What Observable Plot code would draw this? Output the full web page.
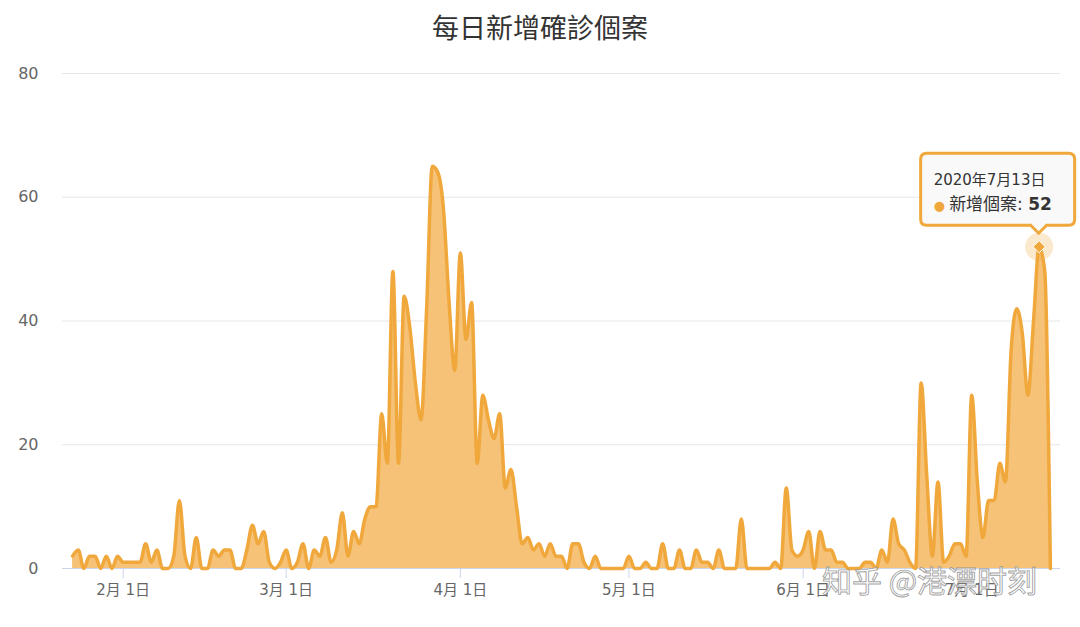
<!DOCTYPE html>
<html>
<head>
<meta charset="utf-8">
<script src="https://cdn.jsdelivr.net/npm/d3@7"></script>
<script src="https://cdn.jsdelivr.net/npm/@observablehq/plot@0.6"></script>
<style>
  body { margin: 0; background: #fff; }
  #wrap { position: relative; width: 1080px; height: 627px; overflow: hidden; }
  #title { height: 60px; line-height: 54px; text-align: center; font-size: 27px; color: #333;
           font-family: "Noto Sans CJK TC", "Noto Sans", sans-serif; }
</style>
</head>
<body>
<div id="wrap">
  <div id="title">每日新增確診個案</div>
  <div id="chart"></div>
</div>
<script>
// ---- data: daily new confirmed cases, starting 2020-01-23 ----
const startDay = "2020-01-23";
const janValues = [2, 3, 0, 2, 2, 0, 2, 0, 2];                       // Jan 23–31
const febValues = [1, 1, 1, 1, 4, 1, 3, 0, 0, 2, 11, 2, 0, 5, 0, 0, 3, 2, 3, 3,
                   0, 0, 3, 7, 4, 6, 1, 0, 1];                        // Feb 1–29
const marValues = [3, 0, 1, 4, 0, 3, 2, 5, 1, 3, 9, 2, 6, 4, 8, 10, 10, 25, 17, 48,
                   17, 44, 39, 30, 24, 42, 65, 64, 58, 43, 32];       // Mar 1–31
const aprValues = [51, 37, 43, 17, 28, 24, 21, 25, 13, 16, 10, 4, 5, 3, 4, 2, 4, 2, 2, 0,
                   4, 4, 1, 0, 2, 0, 0, 0, 0, 0];                     // Apr 1–30
const mayValues = [2, 0, 0, 1, 0, 0, 4, 0, 0, 3, 0, 0, 3, 1, 1, 0, 3, 0, 0, 0,
                   8, 0, 0, 0, 0, 0, 1, 0, 13, 3, 2];                 // May 1–31
const junValues = [3, 6, 0, 6, 3, 3, 1, 1, 0, 0, 0, 1, 1, 0, 3, 1, 8, 4, 3, 1,
                   0, 30, 15, 2, 14, 1, 2, 4, 4, 2];                  // Jun 1–30
const julValues = [28, 14, 5, 11, 11, 17, 14, 35, 42, 38, 28, 40, 52, 48, 0]; // Jul 1–15

const xTickDays   = ["2020-02-01", "2020-03-01", "2020-04-01", "2020-05-01", "2020-06-01", "2020-07-01"];
const xTickLabels = ["2月 1日", "3月 1日", "4月 1日", "5月 1日", "6月 1日", "7月 1日"];
const yTicks = [0, 20, 40, 60, 80];
const xDomainDays = ["2020-01-21T04:48Z", "2020-07-16T19:12Z"];

const tipDay = "2020-07-13";
const tipHeader = "2020年7月13日";
const tipSeriesName = "新增個案";
const watermarkText = "知乎 @港漂时刻";

// ---- build table ----
const DAY = 24 * 3600 * 1000;
const values = [janValues, febValues, marValues, aprValues, mayValues, junValues, julValues].flat();
const t0 = new Date(startDay + "T00:00Z").getTime();
const data = values.map((v, i) => ({ date: new Date(t0 + i * DAY), value: v }));
const tipDate = new Date(tipDay + "T00:00Z");
const tipPoint = data.find(d => +d.date === +tipDate);
const xTicks = xTickDays.map(s => new Date(s + "T00:00Z"));

const LINE = "#f0a83c", FILL = "#f5c278";
const FONT = '"DejaVu Sans", "Noto Sans CJK TC", sans-serif';

const chart = Plot.plot({
  width: 1080,
  height: 567,
  marginTop: 13,
  marginBottom: 59,
  marginLeft: 62,
  marginRight: 20,
  style: { fontFamily: FONT, fontSize: "15px", color: "#666", background: "transparent", overflow: "visible" },
  x: { type: "utc", domain: xDomainDays.map(s => new Date(s)) },
  y: { domain: [0, 80] },
  marks: [
    Plot.gridY(yTicks, { stroke: "#e6e6e6", strokeOpacity: 1 }),
    Plot.ruleY([0], { stroke: "#ccd6eb" }),
    Plot.areaY(data, { x: "date", y: "value", curve: "monotone-x", fill: FILL, fillOpacity: 1 }),
    Plot.lineY(data, { x: "date", y: "value", curve: "monotone-x", stroke: LINE, strokeWidth: 3.5 }),
    Plot.axisY({ ticks: yTicks, tickSize: 0, tickPadding: 24, fontSize: 16, fill: "#666", label: null }),
    Plot.axisX({ ticks: xTicks, tickSize: 10, tickPadding: 6, stroke: "#ccd6eb", fill: "#666", fontSize: 15,
                 label: null, tickFormat: d => xTickLabels[xTicks.findIndex(t => +t === +d)] }),
    Plot.dot([tipPoint], { x: "date", y: "value", r: 14, fill: LINE, fillOpacity: 0.25, stroke: null }),
    Plot.dot([tipPoint], { x: "date", y: "value", r: 5.5, symbol: "diamond2", fill: LINE, stroke: "#fff", strokeWidth: 1 })
  ]
});

document.getElementById("chart").appendChild(chart);

// ---- tooltip, positioned from the plot's scales ----
const px = chart.scale("x").apply(tipPoint.date);
const py = chart.scale("y").apply(tipPoint.value);
const svg = d3.select(chart);
const g = svg.append("g").attr("text-anchor", "start");
const L = px - 118, R = px + 36, T = py - 93, B = py - 21, r = 6;
const path = `M${L + r},${T} H${R - r} Q${R},${T} ${R},${T + r} V${B - r} Q${R},${B} ${R - r},${B}
  H${px + 8} L${px},${py - 13} L${px - 8},${B} H${L + r} Q${L},${B} ${L},${B - r} V${T + r} Q${L},${T} ${L + r},${T} Z`;
g.append("path").attr("d", path).attr("fill", "rgba(248,248,248,0.92)").attr("stroke", LINE).attr("stroke-width", 3);
g.append("text").attr("x", L + 13).attr("y", T + 32).attr("font-size", 15).attr("fill", "#333")
  .style("font-family", FONT).text(tipHeader);
const t2 = g.append("text").attr("x", L + 13).attr("y", T + 57).attr("font-size", 17).attr("fill", "#333")
  .style("font-family", FONT);
t2.append("tspan").attr("fill", LINE).attr("font-size", 13).text("● ");
t2.append("tspan").text(tipSeriesName + ": ");
t2.append("tspan").attr("font-weight", "bold").text(String(tipPoint.value));

// ---- watermark ----
svg.append("text").attr("text-anchor", "start").attr("x", 822).attr("y", 532).attr("font-size", 30)
  .style("font-family", '"Noto Sans CJK SC", sans-serif')
  .attr("fill", "#ffffff").attr("fill-opacity", 0.85).attr("stroke", "#8a8a8a").attr("stroke-width", 0.9)
  .attr("stroke-opacity", 0.8).text(watermarkText);
</script>
</body>
</html>
